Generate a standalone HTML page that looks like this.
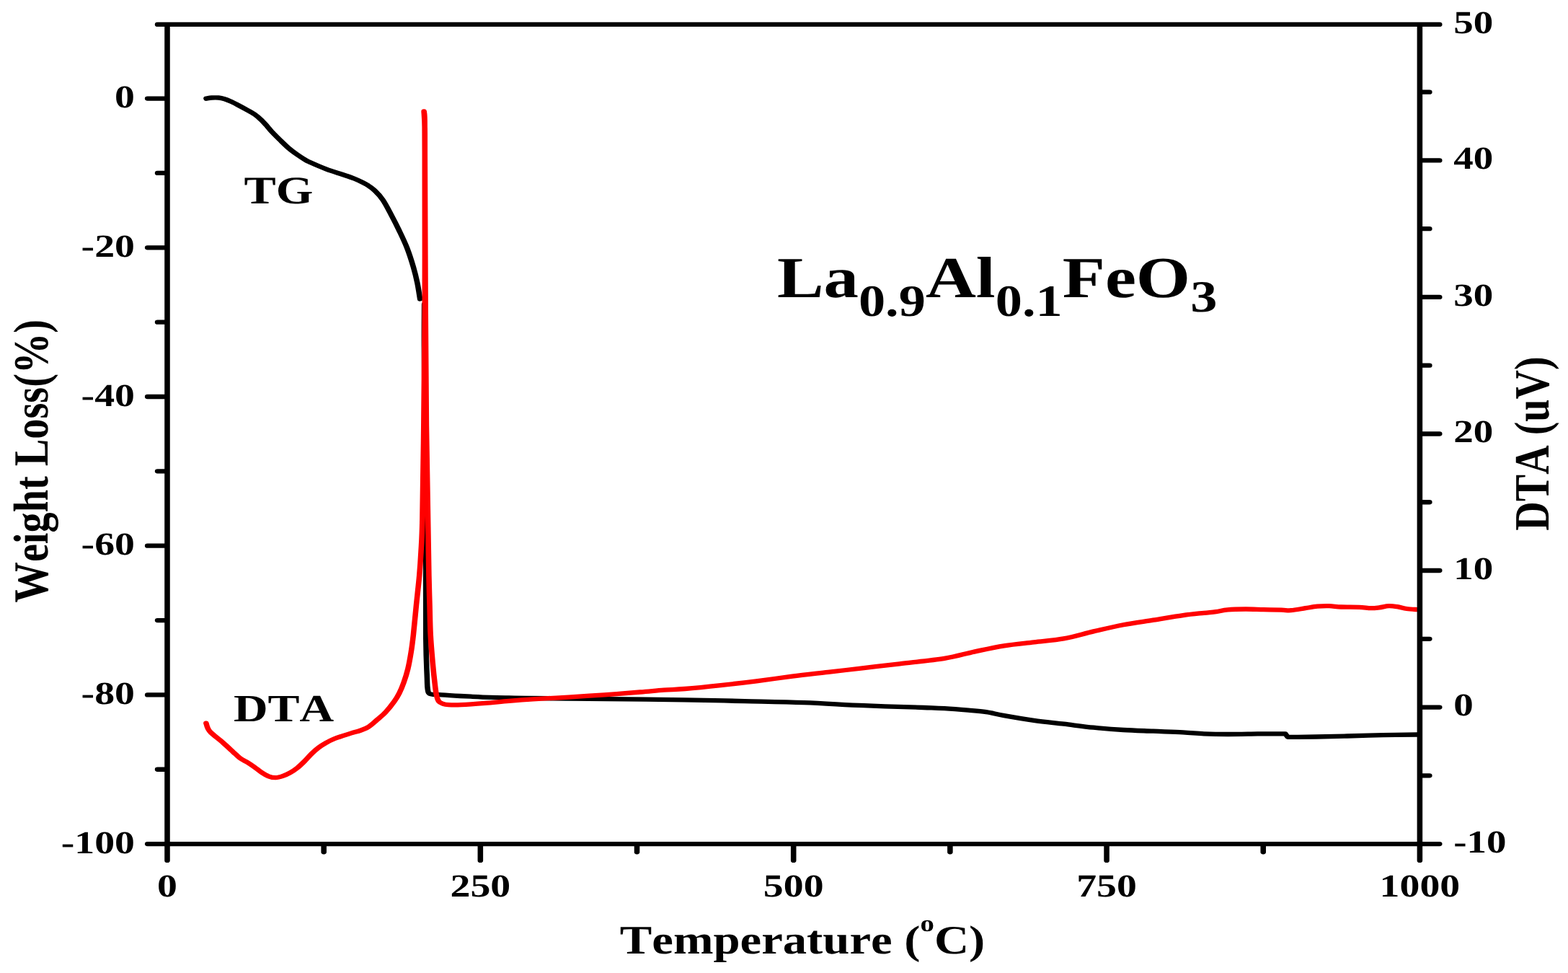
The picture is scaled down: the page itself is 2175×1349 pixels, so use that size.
<!DOCTYPE html>
<html lang="en">
<head>
<meta charset="utf-8">
<title>TG-DTA curves of La0.9Al0.1FeO3</title>
<style>
html,body{margin:0;padding:0;background:#fff;}
body{width:2175px;height:1349px;overflow:hidden;}
svg{display:block;}
text{font-family:"Liberation Serif",serif;font-weight:bold;fill:#000;font-kerning:none;text-rendering:geometricPrecision;}
</style>
</head>
<body>
<svg width="2175" height="1349" viewBox="0 0 2175 1349">
<rect width="2175" height="1349" fill="#fff"/>
<g transform="scale(1.2 1)" fill="none" stroke-linecap="round" stroke-linejoin="round" stroke-width="6.3">
<path d="M238.33 136.7C239.4 136.5 242.36 135.7 244.75 135.5C247.14 135.3 250.19 135.22 252.67 135.5C255.14 135.78 257.28 136.37 259.58 137.2C261.89 138.03 264.03 139.17 266.5 140.5C268.97 141.83 271.44 143.35 274.42 145.2C277.39 147.05 281.04 149.4 284.33 151.6C287.62 153.8 291.21 155.93 294.17 158.4C297.12 160.87 299.61 163.58 302.08 166.4C304.56 169.22 307.01 172.63 309 175.3C310.99 177.97 311.53 179.23 314 182.4C316.47 185.57 320.54 190.45 323.83 194.3C327.13 198.15 330.46 202.15 333.75 205.5C337.04 208.85 340.29 211.63 343.58 214.4C346.88 217.17 351.04 220.35 353.5 222.1C355.96 223.85 355.85 223.55 358.33 224.9C360.82 226.25 364.44 228.23 368.42 230.2C372.39 232.17 377.57 234.73 382.17 236.7C386.76 238.67 391.4 240.15 396 242C400.6 243.85 405.15 245.5 409.75 247.8C414.35 250.1 419.65 253.03 423.58 255.8C427.51 258.57 430.17 260.82 433.33 264.4C436.5 267.98 439.5 271.87 442.58 277.3C445.67 282.73 448.74 290.05 451.83 297C454.93 303.95 458.07 311.25 461.17 319C464.26 326.75 467.64 334.97 470.42 343.5C473.19 352.03 475.83 362.05 477.83 370.2C479.83 378.35 481.14 385.02 482.42 392.4C483.69 399.78 484.99 410.82 485.5 414.5" stroke="#000"/>
<path d="M490.5 422C490.47 431.67 490.22 450.33 490.33 480C490.44 509.67 490.86 552.5 491.17 600C491.47 647.5 491.97 717.38 492.17 765C492.36 812.62 492.08 856.53 492.33 885.7C492.58 914.87 493.33 928.45 493.67 940C494 951.55 493.83 951.37 494.33 955C494.83 958.63 494.47 960.43 496.67 961.8C498.86 963.17 502.61 962.73 507.5 963.2C512.39 963.67 519.83 964.18 526 964.6C532.17 965.02 537.74 965.33 544.5 965.7C551.26 966.07 559.28 966.52 566.58 966.8C573.89 967.08 581.38 967.23 588.33 967.4C595.29 967.57 596.67 967.6 608.33 967.8C620 968 638.89 968.33 658.33 968.6C677.78 968.87 702.78 969.1 725 969.4C747.22 969.7 769.06 969.95 791.67 970.4C814.28 970.85 837.68 971.48 860.67 972.1C883.65 972.72 906.6 973.08 929.58 974.1C952.57 975.12 975.6 977.05 998.58 978.2C1021.57 979.35 1051.99 980.33 1067.5 981C1083.01 981.67 1083.04 981.58 1091.67 982.2C1100.29 982.82 1111.21 983.87 1119.25 984.7C1127.29 985.53 1133.01 985.97 1139.92 987.2C1146.82 988.43 1151.47 990.17 1160.67 992.1C1169.86 994.03 1183.6 996.87 1195.08 998.8C1206.57 1000.73 1218.08 1002.05 1229.58 1003.7C1241.08 1005.35 1252.58 1007.32 1264.08 1008.7C1275.58 1010.08 1287.08 1011.17 1298.58 1012C1310.08 1012.83 1321.6 1013.15 1333.08 1013.7C1344.57 1014.25 1357.74 1014.7 1367.5 1015.3C1377.26 1015.9 1383.04 1016.85 1391.67 1017.3C1400.29 1017.75 1408.9 1017.98 1419.25 1018C1429.6 1018.02 1445.15 1017.52 1453.75 1017.4C1462.35 1017.28 1465.51 1017.32 1470.83 1017.3C1476.15 1017.28 1483.19 1017.3 1485.67 1017.3L1488.58 1021.9C1490.49 1021.9 1494.49 1021.97 1500 1021.9C1505.51 1021.83 1512.14 1021.73 1521.67 1021.5C1531.19 1021.27 1544.35 1020.88 1557.17 1020.5C1569.99 1020.12 1585.01 1019.53 1598.58 1019.2C1612.15 1018.87 1631.92 1018.62 1638.58 1018.5" stroke="#000"/>
<path d="M238.25 1002.6C238.57 1003.77 239.17 1007.33 240.17 1009.6C241.17 1011.87 241.26 1012.8 244.25 1016.2C247.24 1019.6 253.49 1025.18 258.08 1030C262.68 1034.82 268.39 1041.4 271.83 1045.1C275.28 1048.8 276.44 1050.27 278.75 1052.2C281.06 1054.13 283.14 1054.85 285.67 1056.7C288.19 1058.55 291.17 1060.95 293.92 1063.3C296.67 1065.65 299.4 1068.63 302.17 1070.8C304.93 1072.97 307.74 1075.07 310.5 1076.3C313.26 1077.53 316 1078.27 318.75 1078.2C321.5 1078.13 324.25 1077.03 327 1075.9C329.75 1074.77 332.49 1073.27 335.25 1071.4C338.01 1069.53 340.82 1067.33 343.58 1064.7C346.35 1062.07 349.08 1058.87 351.83 1055.6C354.58 1052.33 357.32 1048.3 360.08 1045.1C362.85 1041.9 365.67 1038.9 368.42 1036.4C371.17 1033.9 373.58 1032.12 376.58 1030.1C379.58 1028.08 383.12 1025.95 386.42 1024.3C389.71 1022.65 393.04 1021.52 396.33 1020.2C399.63 1018.88 402.88 1017.6 406.17 1016.4C409.46 1015.2 412.78 1014.43 416.08 1013C419.39 1011.57 422.71 1010.3 426 1007.8C429.29 1005.3 432.54 1001.4 435.83 998C439.13 994.6 442.44 991.62 445.75 987.4C449.06 983.18 453.01 977.15 455.67 972.7C458.32 968.25 459.83 965.08 461.67 960.7C463.5 956.32 465.03 951.95 466.67 946.4C468.31 940.85 470.07 934.52 471.5 927.4C472.93 920.28 474.19 911.6 475.25 903.7C476.31 895.8 476.83 890.85 477.83 880C478.83 869.15 480.1 852.27 481.25 838.6C482.4 824.93 483.85 810.27 484.75 798C485.65 785.73 486.08 778 486.67 765C487.25 752 487.72 749.17 488.25 720C488.78 690.83 489.36 638.33 489.83 590C490.31 541.67 490.88 488.17 491.08 430C491.29 371.83 491.1 283 491.08 241C491.07 199 491.17 192.42 491 178C490.83 163.58 490.24 158.42 490.08 154.5L490.08 154.5C490.22 156.75 490.74 153.58 490.92 168C491.1 182.42 491.01 197.33 491.17 241C491.32 284.67 491.56 371.83 491.83 430C492.11 488.17 492.36 541.67 492.83 590C493.31 638.33 494.18 685.33 494.67 720C495.15 754.67 495.42 778.23 495.75 798C496.08 817.77 496.35 824.93 496.67 838.6C496.99 852.27 497.08 866.6 497.67 880C498.25 893.4 499.33 907.68 500.17 919C501 930.32 501.94 940.48 502.67 947.9C503.39 955.32 503.75 959.42 504.5 963.5C505.25 967.58 505.89 970.33 507.17 972.4C508.44 974.47 510.31 975.1 512.17 975.9C514.03 976.7 514.85 976.98 518.33 977.2C521.82 977.42 526.03 977.58 533.08 977.2C540.14 976.82 551.47 975.8 560.67 974.9C569.86 974 579.06 972.73 588.25 971.8C597.44 970.87 604.35 970.17 615.83 969.3C627.32 968.43 643.38 967.6 657.17 966.6C670.96 965.6 684.79 964.48 698.58 963.3C712.38 962.12 728.43 960.6 739.92 959.5C751.4 958.4 758.88 957.45 767.5 956.7C776.12 955.95 780.74 956.1 791.67 955C802.6 953.9 819.29 951.88 833.08 950.1C846.88 948.32 860.62 946.37 874.42 944.3C888.21 942.23 902.04 939.77 915.83 937.7C929.62 935.63 943.38 933.83 957.17 931.9C970.96 929.97 984.79 928.03 998.58 926.1C1012.38 924.17 1024.4 922.5 1039.92 920.3C1055.43 918.1 1077.29 915.68 1091.67 912.9C1106.04 910.12 1114.67 906.53 1126.17 903.6C1137.67 900.67 1149.18 897.52 1160.67 895.3C1172.15 893.08 1183.6 891.95 1195.08 890.3C1206.57 888.65 1218.08 887.88 1229.58 885.4C1241.08 882.92 1252.58 878.58 1264.08 875.4C1275.58 872.22 1287.08 868.92 1298.58 866.3C1310.08 863.68 1321.6 861.9 1333.08 859.7C1344.57 857.5 1357.74 854.75 1367.5 853.1C1377.26 851.45 1385.33 850.63 1391.67 849.8C1398 848.97 1400.9 848.85 1405.5 848.1C1410.1 847.35 1413.51 845.9 1419.25 845.3C1424.99 844.7 1433.01 844.52 1439.92 844.5C1446.82 844.48 1453.76 845 1460.67 845.2C1467.57 845.4 1476.06 845.53 1481.33 845.7C1486.61 845.87 1487.74 846.62 1492.33 846.2C1496.93 845.78 1503.86 844.12 1508.92 843.2C1513.97 842.28 1518.07 841.2 1522.67 840.7C1527.26 840.2 1531.9 840.07 1536.5 840.2C1541.1 840.33 1544.5 841.23 1550.25 841.5C1556 841.77 1565.25 841.52 1571 841.8C1576.75 842.08 1580.85 843.12 1584.75 843.2C1588.65 843.28 1590.97 842.8 1594.42 842.3C1597.86 841.8 1601.97 840.38 1605.42 840.2C1608.86 840.02 1611.62 840.57 1615.08 841.2C1618.54 841.83 1622.25 843.33 1626.17 844C1630.08 844.67 1636.51 845 1638.58 845.2" stroke="#f00"/>
<path d="M193.33 33.9H1641.17V1170.1H193.33ZM193.33 33.9h-11.2M193.33 136.6h-22.8M193.33 239.95h-11.2M193.33 343.3h-22.8M193.33 446.65h-11.2M193.33 550h-22.8M193.33 653.35h-11.2M193.33 756.7h-22.8M193.33 860.05h-11.2M193.33 963.4h-22.8M193.33 1066.75h-11.2M193.33 1170.1h-22.8M1641.17 33.9h22.8M1641.17 127.63h11.2M1641.17 222.4h22.8M1641.17 317.17h11.2M1641.17 411.94h22.8M1641.17 506.71h11.2M1641.17 601.48h22.8M1641.17 696.25h11.2M1641.17 791.02h22.8M1641.17 885.79h11.2M1641.17 980.56h22.8M1641.17 1075.33h11.2M1641.17 1170.1h22.8M193.33 1170.1v22.8M374.31 1170.1v11.2M555.29 1170.1v22.8M736.27 1170.1v11.2M917.25 1170.1v22.8M1098.23 1170.1v11.2M1279.21 1170.1v22.8M1460.19 1170.1v11.2M1641.17 1170.1v22.8" stroke="#000" stroke-linejoin="miter"/>
<g stroke="none">
<text transform="translate(155.83 149.3) scale(1.045 1)" font-size="44.5" text-anchor="end">0</text>
<text transform="translate(155.83 356) scale(1.045 1)" font-size="44.5" text-anchor="end">-20</text>
<text transform="translate(155.83 562.7) scale(1.045 1)" font-size="44.5" text-anchor="end">-40</text>
<text transform="translate(155.83 769.4) scale(1.045 1)" font-size="44.5" text-anchor="end">-60</text>
<text transform="translate(155.83 976.1) scale(1.045 1)" font-size="44.5" text-anchor="end">-80</text>
<text transform="translate(155.83 1182.8) scale(1.045 1)" font-size="44.5" text-anchor="end">-100</text>
<text transform="translate(1680.25 45.7) scale(1.03 1)" font-size="44.5" text-anchor="start">50</text>
<text transform="translate(1680.25 234.2) scale(1.03 1)" font-size="44.5" text-anchor="start">40</text>
<text transform="translate(1680.25 423.74) scale(1.03 1)" font-size="44.5" text-anchor="start">30</text>
<text transform="translate(1680.25 613.28) scale(1.03 1)" font-size="44.5" text-anchor="start">20</text>
<text transform="translate(1680.25 802.82) scale(1.03 1)" font-size="44.5" text-anchor="start">10</text>
<text transform="translate(1680.25 992.36) scale(1.03 1)" font-size="44.5" text-anchor="start">0</text>
<text transform="translate(1680.25 1181.9) scale(1.03 1)" font-size="44.5" text-anchor="start">-10</text>
<text transform="translate(193.33 1242.8) scale(1.045 1)" font-size="44.5" text-anchor="middle">0</text>
<text transform="translate(555.29 1242.8) scale(1.045 1)" font-size="44.5" text-anchor="middle">250</text>
<text transform="translate(917.25 1242.8) scale(1.045 1)" font-size="44.5" text-anchor="middle">500</text>
<text transform="translate(1279.21 1242.8) scale(1.045 1)" font-size="44.5" text-anchor="middle">750</text>
<text transform="translate(1641.17 1242.8) scale(1.045 1)" font-size="44.5" text-anchor="middle">1000</text>
<text transform="translate(716.5 1322) scale(0.9925 1)" font-size="56" text-anchor="start">Temperature (<tspan font-size="32.6" dy="-31.4">o</tspan><tspan dy="31.4">C)</tspan></text>
<text transform="translate(55.33 835.4) scale(0.83333 1) rotate(-90) scale(1.005 1.218)" font-size="56" text-anchor="start">Weight Loss(%)</text>
<text transform="translate(1789.75 735.7) scale(0.83333 1) rotate(-90) scale(1.001 1.224)" font-size="56" text-anchor="start">DTA (uV)</text>
<text transform="translate(282.17 282.1) scale(1.02 1)" font-size="54.2" text-anchor="start">TG</text>
<text transform="translate(269.92 1000.3) scale(1.025 1)" font-size="53.6" text-anchor="start">DTA</text>
<text transform="translate(898.25 411.8)" font-size="80.7" text-anchor="start">La<tspan font-size="62" dy="25.9">0.9</tspan><tspan dy="-25.9">Al</tspan><tspan font-size="62" dy="25.9">0.1</tspan><tspan dy="-25.9">FeO</tspan><tspan font-size="62" dy="20.2">3</tspan></text>
</g>
</g>
</svg>
</body>
</html>
